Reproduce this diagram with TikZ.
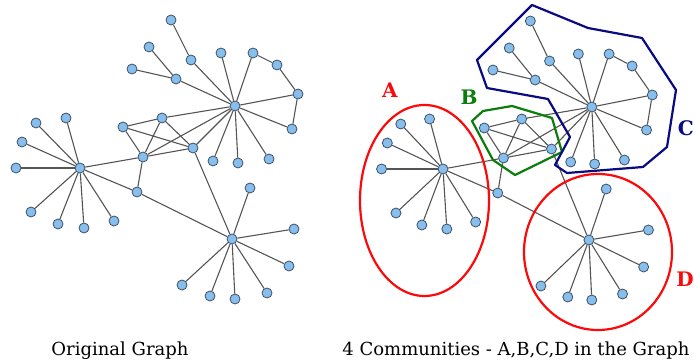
\documentclass[tikz,border=0pt]{standalone}
\usepackage{fontspec}
\setmainfont{DejaVu Serif}
\definecolor{vtxblue}{RGB}{135,190,235}
\definecolor{vtxline}{RGB}{60,80,105}
\definecolor{edgegray}{RGB}{85,85,85}
\definecolor{comred}{RGB}{250,10,10}
\definecolor{comgreen}{RGB}{10,125,10}
\definecolor{comblue}{RGB}{10,10,130}
\tikzset{
  vtx/.style={circle,draw=vtxline,fill=vtxblue,line width=0.8pt,inner sep=0pt,minimum size=10pt},
  edge/.style={draw=edgegray,line width=1.1pt},
  hull/.style={line width=2.2pt,line join=round},
  comlabel/.style={font=\bfseries\fontsize{20}{20}\selectfont,inner sep=0pt}
}

\begin{document}
\begin{tikzpicture}[x=1pt,y=-1pt]
\useasboundingbox (0,0) rectangle (694,363);
\foreach \s/\dx/\dy/\sx in {L/0/0/1,R/366.2/1/0.96} {
\begin{scope}[shift={(\dx,\dy)},xscale=\sx]
\node[vtx] (\s-ha) at (80,168) {};
\node[vtx] (\s-hc) at (235,106) {};
\node[vtx] (\s-hd) at (232,239) {};
\node[vtx] (\s-b1) at (123,127) {};
\node[vtx] (\s-b2) at (162,118) {};
\node[vtx] (\s-b3) at (193,148) {};
\node[vtx] (\s-b4) at (143,157) {};
\node[vtx] (\s-e) at (137,192) {};
\foreach \x/\y [count=\i] in {16/168,22/142,36/123,66/118,31/212,58/224,84/228,114/221} {
  \node[vtx] (\s-a\i) at (\x,\y) {};
  \draw[edge] (\s-ha) -- (\s-a\i);
}
\foreach \x/\y [count=\i] in {250/188,294/229,289/266,267/293,235/299,210/296,182/285} {
  \node[vtx] (\s-d\i) at (\x,\y) {};
  \draw[edge] (\s-hd) -- (\s-d\i);
}
\foreach \x/\y [count=\i] in {171/20,191/60,149/47,132/69,176/79,221/53,253/53,277/65,298/94,292/129,213/161,238/163,269/159} {
  \node[vtx] (\s-c\i) at (\x,\y) {};
}
\foreach \i in {2,5,6,7,9,10,11,12,13} {
  \draw[edge] (\s-hc) -- (\s-c\i);
}
\draw[edge] (\s-c1) -- (\s-c2);
\draw[edge] (\s-c3) -- (\s-c5);
\draw[edge] (\s-c4) -- (\s-c5);
\draw[edge] (\s-c7) -- (\s-c8) -- (\s-c9) -- (\s-c10);
% the middle group
\draw[edge] (\s-b1) -- (\s-b2) -- (\s-b4) -- (\s-b1) -- (\s-b3) -- (\s-b2);
\draw[edge] (\s-b3) -- (\s-b4);
\draw[edge] (\s-b2) -- (\s-hc);
\draw[edge] (\s-b3) -- (\s-hc);
\draw[edge] (\s-b4) -- (\s-hc);
\draw[edge] (\s-ha) -- (\s-b4);
\draw[edge] (\s-ha) -- (\s-e) -- (\s-b4);
\draw[edge] (\s-e) -- (\s-hd);
\draw[edge] (\s-b3) -- (\s-hd);
\end{scope}
}
% communities
\draw[hull,comred] (424.5,200.5) ellipse [x radius=64.5,y radius=95.5];
\draw[hull,comred] (598,252) ellipse [x radius=74,y radius=78];
\draw[hull,comgreen] (472,121) -- (483,111) -- (512,106) -- (552,118) -- (562,152) -- (515,175) -- (493,160) -- cycle;
\draw[hull,comblue] (477,60) -- (532,5) -- (588,28) -- (642,38) -- (676,90) -- (667,147) -- (643,167) -- (567,173) -- (555,165) -- (570,137) -- (548,99) -- (487,88) -- cycle;
\node[comlabel,text=comred] (lab-a) at (390,90) {A};
\node[comlabel,text=comgreen] (lab-b) at (469,97) {B};
\node[comlabel,text=comblue,anchor=east] (lab-c) at (694,128) {C};
\node[comlabel,text=comred] (lab-d) at (685,279) {D};
\node[font=\fontsize{18}{18}\selectfont] (cap-l) at (120,351) {Original Graph};
\node[font=\fontsize{18}{18}\selectfont] (cap-r) at (516,351) {4 Communities - A,B,C,D in the Graph};
\end{tikzpicture}
\end{document}
